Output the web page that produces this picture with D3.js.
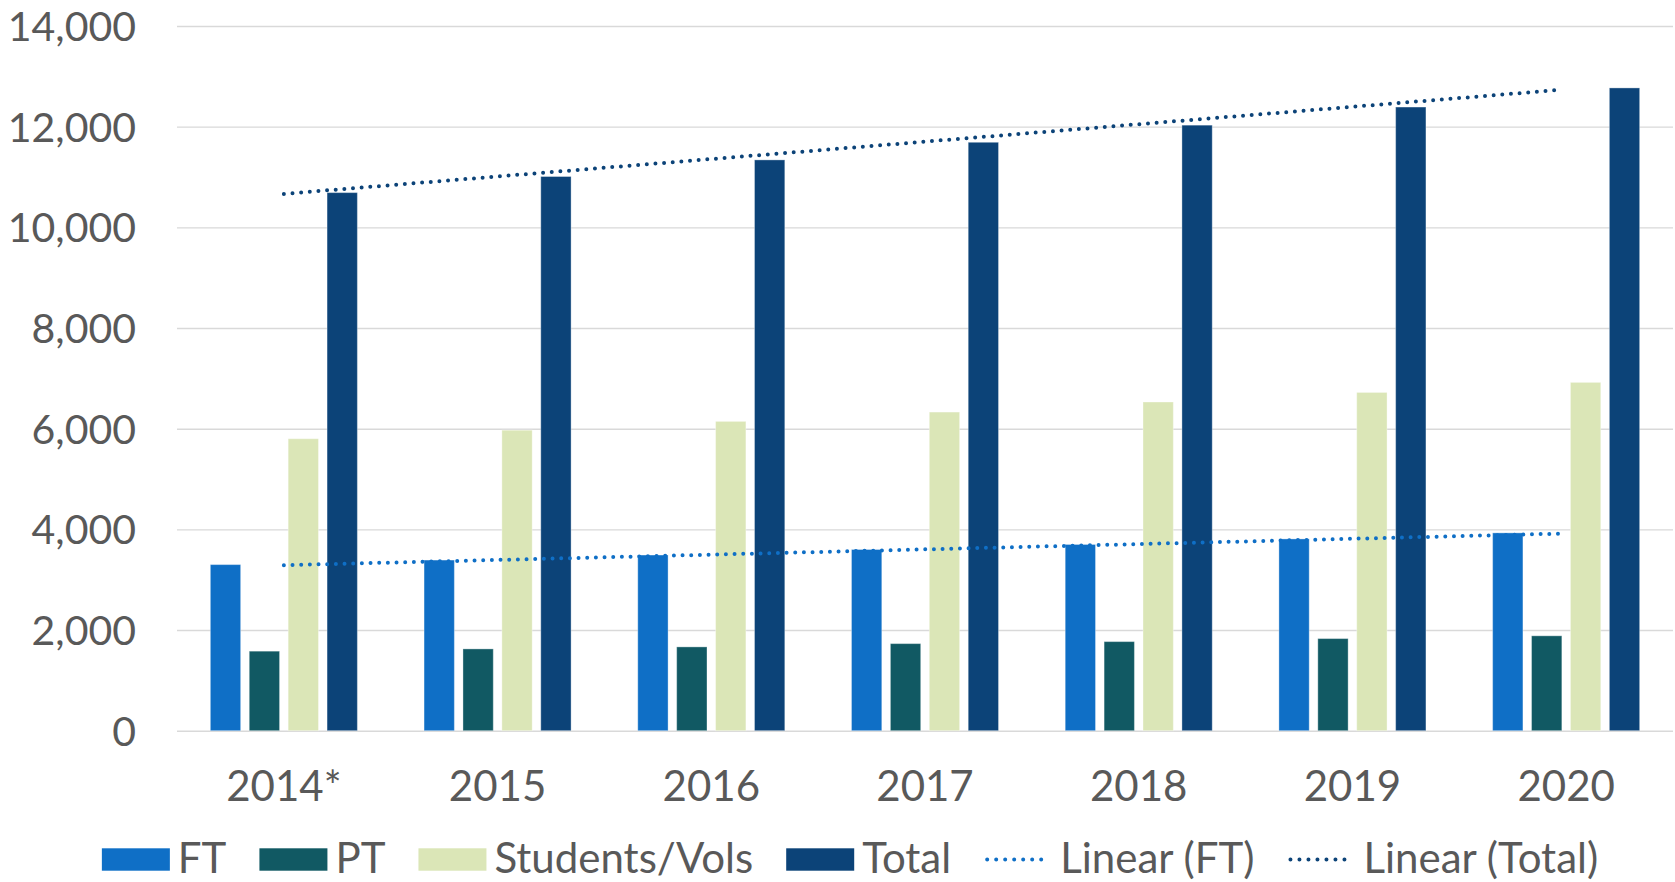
<!DOCTYPE html>
<html>
<head>
<meta charset="utf-8">
<script src="https://cdn.jsdelivr.net/npm/d3@7"></script>
<style>
  html, body { margin: 0; padding: 0; background: #fff; }
  svg { display: block; font-family: Lato, "Open Sans", sans-serif; }
</style>
</head>
<body>
<div id="chart"></div>
<script>
// data
const years = ["2014*", "2015", "2016", "2017", "2018", "2019", "2020"];
const ft = [3300, 3390, 3490, 3600, 3700, 3810, 3930];
const pt = [1580, 1625, 1665, 1730, 1770, 1830, 1885];
const students = [5800, 5970, 6145, 6330, 6530, 6720, 6920];
const total = [10690, 11010, 11340, 11690, 12030, 12390, 12770];
const seriesNames = ["FT", "PT", "Students/Vols", "Total"];
const yTicks = [0, 2000, 4000, 6000, 8000, 10000, 12000, 14000];

const colors = {
  "FT": "#0F6FC6",
  "PT": "#115963",
  "Students/Vols": "#DBE6B7",
  "Total": "#0C4378"
};

const W = 1675, H = 882;
const plotLeft = 177, plotRight = 1673, plotTop = 26, plotBottom = 730.7;
const textColor = "#595959";
const fontSize = 42;

const svg = d3.select("#chart").append("svg")
  .attr("width", W)
  .attr("height", H);

// scales
const x0 = d3.scaleBand().domain(years).range([plotLeft, plotRight])
  .paddingInner(0.312).paddingOuter(0.156);
const x1 = d3.scaleBand().domain(seriesNames).range([0, x0.bandwidth()])
  .paddingInner(0.221).paddingOuter(0);
const y = d3.scaleLinear().domain([0, 14000]).range([plotBottom, plotTop]);

// gridlines + y labels
const yAxis = svg.append("g")
  .attr("transform", `translate(${plotLeft},0)`)
  .call(d3.axisLeft(y).tickValues(yTicks).tickFormat(d3.format(","))
    .tickSize(-(plotRight - plotLeft)).tickPadding(41));
yAxis.select(".domain").remove();
yAxis.selectAll(".tick line").attr("stroke", "#D9D9D9").attr("stroke-width", 1.4);
yAxis.selectAll(".tick text")
  .attr("fill", textColor)
  .attr("font-size", 41)
  .attr("font-family", "Lato, sans-serif")
  .attr("dy", "0.35em");

// x labels
const xAxis = svg.append("g")
  .attr("transform", `translate(0,${plotBottom})`)
  .call(d3.axisBottom(x0).tickSize(0).tickPadding(0));
xAxis.select(".domain").remove();
xAxis.selectAll(".tick text")
  .attr("fill", textColor)
  .attr("font-size", fontSize)
  .attr("font-family", "Lato, sans-serif")
  .attr("y", 70)
  .attr("dy", 0);

// bars
const rows = years.map((yr, i) => ({
  year: yr,
  values: [
    { key: "FT", v: ft[i] },
    { key: "PT", v: pt[i] },
    { key: "Students/Vols", v: students[i] },
    { key: "Total", v: total[i] }
  ]
}));

svg.append("g").selectAll("g")
  .data(rows)
  .join("g")
  .attr("transform", d => `translate(${x0(d.year)},0)`)
  .selectAll("rect")
  .data(d => d.values)
  .join("rect")
  .attr("x", d => x1(d.key))
  .attr("width", x1.bandwidth())
  .attr("y", d => y(d.v))
  .attr("height", d => y(0) - y(d.v))
  .attr("fill", d => colors[d.key])
  .attr("stroke", "rgba(255,255,255,0.35)")
  .attr("stroke-width", 1);

// linear trendlines (least squares over category index)
function linFit(vals) {
  const n = vals.length;
  const mx = (n - 1) / 2;
  const my = d3.mean(vals);
  let sxy = 0, sxx = 0;
  vals.forEach((v, i) => { sxy += (i - mx) * (v - my); sxx += (i - mx) * (i - mx); });
  const b = sxy / sxx;
  return i => my + b * (i - mx);
}

const cx = yr => x0(yr) + x0.bandwidth() / 2;
const trends = [
  { name: "Linear (FT)", vals: ft, color: "#0F6FC6" },
  { name: "Linear (Total)", vals: total, color: "#0C4378" }
];

trends.forEach(t => {
  const f = linFit(t.vals);
  const last = years.length - 1;
  svg.append("line")
    .attr("x1", cx(years[0]))
    .attr("y1", y(f(0)))
    .attr("x2", cx(years[last]) - 6)
    .attr("y2", y(f(last - 6 / x0.step())))
    .attr("stroke", t.color)
    .attr("stroke-width", 4)
    .attr("stroke-linecap", "round")
    .attr("stroke-dasharray", "0 8.67");
});

// legend
const legendItems = [
  { name: "FT", type: "rect", color: colors["FT"] },
  { name: "PT", type: "rect", color: colors["PT"] },
  { name: "Students/Vols", type: "rect", color: colors["Students/Vols"] },
  { name: "Total", type: "rect", color: colors["Total"] },
  { name: "Linear (FT)", type: "line", color: "#0F6FC6" },
  { name: "Linear (Total)", type: "line", color: "#0C4378" }
];

const legend = svg.append("g");
const swW = 68, swH = 22.4, swGap = 8, itemGap = 33;
const legY = 859.5, legBase = 873.3;
let lx = 0;
legendItems.forEach(it => {
  const g = legend.append("g");
  if (it.type === "rect") {
    g.append("rect")
      .attr("x", lx).attr("y", legY - swH / 2)
      .attr("width", swW).attr("height", swH)
      .attr("fill", it.color);
  } else {
    g.append("line")
      .attr("x1", lx + 3).attr("x2", lx + swW - 3)
      .attr("y1", legY).attr("y2", legY)
      .attr("stroke", it.color)
      .attr("stroke-width", 4)
      .attr("stroke-linecap", "round")
      .attr("stroke-dasharray", "0 9");
  }
  const txt = g.append("text")
    .attr("x", lx + swW + swGap)
    .attr("y", legBase)
    .attr("fill", textColor)
    .attr("font-size", fontSize)
    .text(it.name);
  lx += swW + swGap + txt.node().getComputedTextLength() + itemGap;
});
const legWidth = lx - itemGap;
legend.attr("transform", `translate(${850 - legWidth / 2},0)`);
</script>
</body>
</html>
